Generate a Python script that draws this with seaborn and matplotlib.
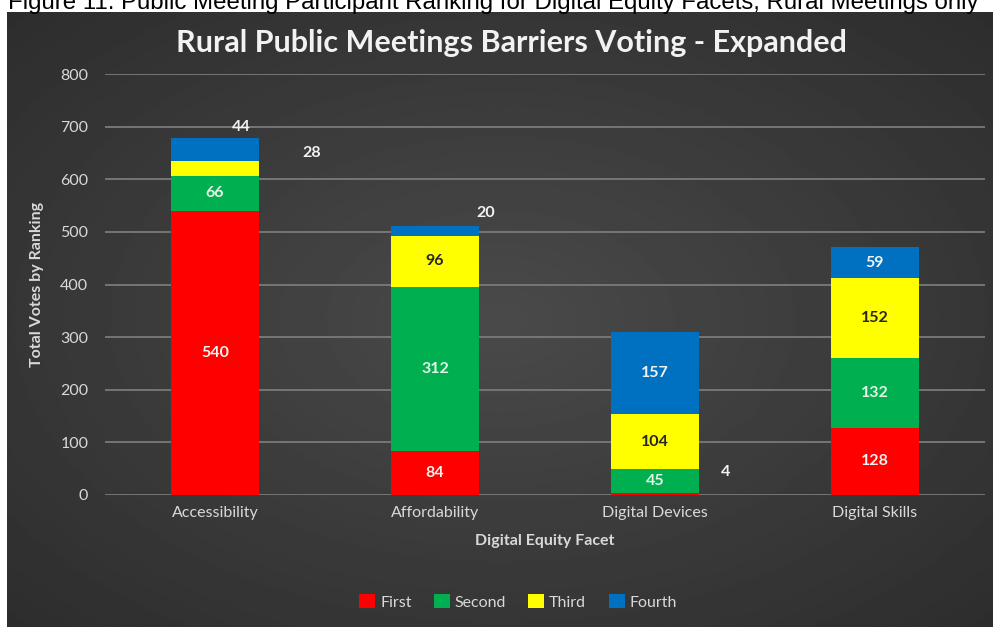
import numpy as np
import pandas as pd
import matplotlib
matplotlib.use("Agg")
import matplotlib.pyplot as plt
import seaborn as sns
from matplotlib.patches import Patch

# chart data
facets = ["Accessibility", "Affordability", "Digital Devices", "Digital Skills"]
rankings = ["First", "Second", "Third", "Fourth"]
first = [540, 84, 4, 128]
second = [66, 312, 45, 132]
third = [28, 96, 104, 152]
fourth = [44, 20, 157, 59]
y_ticks = [0, 100, 200, 300, 400, 500, 600, 700, 800]

colors = {"First": "#FF0000", "Second": "#00B050", "Third": "#FFFF00", "Fourth": "#0070C0"}
text_colors = {"First": "#F2F2F2", "Second": "#E6F4E6", "Third": "#262626", "Fourth": "#F2F2F2"}

df = pd.DataFrame({"Facet": facets, "First": first, "Second": second,
                   "Third": third, "Fourth": fourth})

sns.set_theme(style="dark")
plt.rcParams["font.family"] = ["Lato", "DejaVu Sans"]

fig = plt.figure(figsize=(9.93, 6.27), dpi=100)
fig.patch.set_facecolor("white")

# dark panel with radial gradient
bg = fig.add_axes([7 / 993, 0, 1 - 7 / 993, (627 - 12) / 627])
yy, xx = np.mgrid[0:1:300j, 0:1:400j]
r = np.sqrt(((xx - 0.5) / 0.75) ** 2 + ((yy - 0.5) / 0.75) ** 2)
shade = 0.29 - 0.12 * np.clip(r, 0, 1)
bg.imshow(shade, cmap="gray", vmin=0, vmax=1, aspect="auto", extent=[0, 1, 0, 1])
bg.set_axis_off()

fig.text(8 / 993, 1 - 9 / 627, "Figure 11. Public Meeting Participant Ranking for Digital Equity Facets, Rural Meetings only",
         family="Liberation Sans", fontsize=17.3, color="black", va="baseline", ha="left")

ax = fig.add_axes([105 / 993, 1 - 495 / 627, 880 / 993, (495 - 74) / 627])
ax.set_facecolor("none")

bottom = np.zeros(len(facets))
for rank in rankings:
    sns.barplot(data=df, x="Facet", y=rank, color=colors[rank], width=0.4,
                bottom=bottom, ax=ax, saturation=1, linewidth=0, edgecolor="none", zorder=3)
    bottom = bottom + df[rank].to_numpy()

# labels inside segments, small ones placed outside
outside = {(0, "Fourth"): (0.12, 700), (0, "Third"): (0.44, 650),
           (1, "Fourth"): (0.23, 536), (2, "First"): (0.32, 44)}
base = np.zeros(len(facets))
for rank in rankings:
    vals = df[rank].to_numpy()
    for i, v in enumerate(vals):
        if (i, rank) in outside:
            dx, yv = outside[(i, rank)]
            ax.text(i + dx, yv, str(v), ha="center", va="center", fontsize=11.5,
                    fontweight="bold", color="#F2F2F2", zorder=5)
        else:
            ax.text(i, base[i] + v / 2, str(v), ha="center", va="center", fontsize=11.5,
                    fontweight="bold", color=text_colors[rank], zorder=5)
    base = base + vals

ax.set_ylim(0, 800)
ax.set_xlim(-0.5, 3.5)
ax.set_yticks(y_ticks)
ax.grid(axis="y", color="#7A7A7A", linewidth=1.3, zorder=0)
ax.grid(axis="x", visible=False)
for s in ax.spines.values():
    s.set_visible(False)
ax.tick_params(axis="both", length=0, colors="#D9D9D9", labelsize=11.5, pad=12)
ax.tick_params(axis="x", pad=8)

ax.set_xlabel("Digital Equity Facet", fontsize=11.5, fontweight="bold", color="#D9D9D9", labelpad=10)
ax.set_ylabel("Total Votes by Ranking", fontsize=11.5, fontweight="bold", color="#D9D9D9", labelpad=12)

fig.text(511 / 993, 1 - 43 / 627, "Rural Public Meetings Barriers Voting - Expanded",
         ha="center", va="center", fontsize=22, fontweight="bold", color="#F2F2F2")

handles = [Patch(facecolor=colors[r], edgecolor="none", linewidth=0, label=r) for r in rankings]
fig.legend(handles=handles, loc="center", bbox_to_anchor=(518 / 993, 1 - 602 / 627), ncol=4,
           frameon=False, fontsize=11.5, labelcolor="#D9D9D9", handlelength=1.0,
           handleheight=1.0, handletextpad=0.3, columnspacing=1.4)

fig.savefig("out.png", dpi=100)
